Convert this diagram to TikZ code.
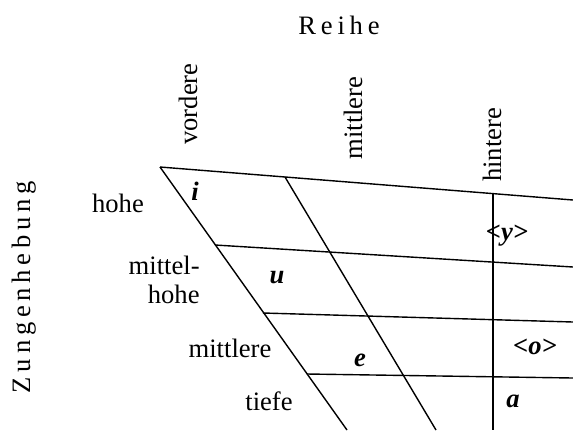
\documentclass[tikz,border=0pt]{standalone}
\usepackage{fontspec}
\setmainfont{Liberation Serif}
\usetikzlibrary{positioning}
\newcommand{\txtsz}{\fontsize{13.3}{14.5}\selectfont}
\tikzset{
  gline/.style={draw=black,line width=0.7pt},
  lbl/.style={font=\txtsz,inner sep=0pt,text=black},
  vowel/.style={lbl,font=\txtsz\bfseries\itshape},
  axislbl/.style={lbl,font=\txtsz\addfontfeatures{LetterSpace=18}},
  colhead/.style={lbl,rotate=90}
}

\begin{document}
\begin{tikzpicture}[x=0.5pt,y=-0.5pt]
  \useasboundingbox (0,0) rectangle (573,430);
  \coordinate (tl) at (160,167);
  \coordinate (tr) at (573,200);
  \coordinate (lb) at (347,430);
  \coordinate (mt) at (285,177);
  \coordinate (mb) at (436,430);
  \coordinate (ht) at (493,194);
  \coordinate (hb) at (493,430);
  \coordinate (r2l) at (215,245);
  \coordinate (r2r) at (573,267);
  \coordinate (r3l) at (263,313);
  \coordinate (r3r) at (573,322);
  \coordinate (r4l) at (307,374);
  \coordinate (r4r) at (573,378);
  \draw[gline] (tl) -- (tr);
  \draw[gline] (tl) -- (lb);
  \draw[gline] (mt) -- (mb);
  \draw[gline] (ht) -- (hb);
  \draw[gline] (r2l) -- (r2r);
  \draw[gline] (r3l) -- (r3r);
  \draw[gline] (r4l) -- (r4r);

  \node[axislbl] (reihe) at (339,25) {Reihe};
  \node[axislbl,rotate=90] (zunge) at (24,287) {Zungenhebung};
  \node[colhead] (vord) at (188,104) {vordere};
  \node[colhead] (mitt) at (353,118) {mittlere};
  \node[colhead] (hint) at (492,145) {hintere};

  \node[lbl] (hoch) at (118,203) {hohe};
  \node[lbl,align=right,anchor=east] (mhoch) at (200,280) {mittel-\\hohe};
  \node[lbl] (mittl) at (230,348) {mittlere};
  \node[lbl] (tief) at (269,401) {tiefe};

  \node[vowel] (vi) at (195,191) {i};
  \node[vowel] (vy) at (507,236) {<y>};
  \node[vowel] (vu) at (277,278) {u};
  \node[vowel] (vo) at (535,347) {<o>};
  \node[vowel] (ve) at (360,360) {e};
  \node[vowel] (va) at (513,401) {a};
\end{tikzpicture}
\end{document}
